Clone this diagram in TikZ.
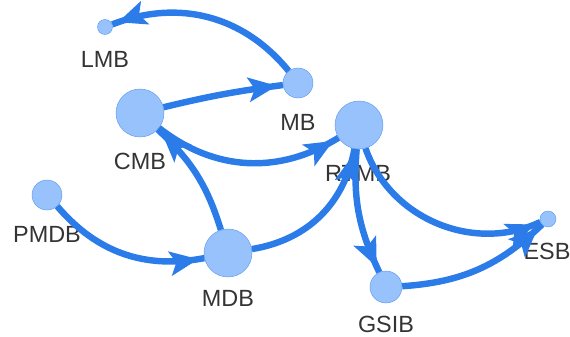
\documentclass[tikz,border=0pt]{standalone}
\usepackage{fontspec}
\setmainfont{Liberation Sans}
\usetikzlibrary{arrows.meta,decorations.markings}
\definecolor{EdgeBlue}{HTML}{2B7CE9}
\definecolor{NodeFill}{HTML}{97C2FC}
\definecolor{NodeLine}{HTML}{5E9BEE}
\definecolor{TextGray}{HTML}{343434}

\begin{document}
\begin{tikzpicture}[x=0.03cm, y=-0.03cm,
  vtx/.style={circle, draw=NodeLine, thin, fill=NodeFill, inner sep=0pt},
  lbl/.style={text=TextGray, font=\fontsize{20}{23}\selectfont, inner sep=0pt},
  link/.style={EdgeBlue, line width=5.5pt, postaction={decorate},
    decoration={markings, mark=at position -0.18cm with {\arrow{Stealth[length=0.85cm,width=0.72cm,inset=0.18cm]}}}}]
\useasboundingbox (0,0) rectangle (570,336);
\node[vtx, minimum size=0.45cm] (lmb)  at (105,27)  {};
\node[vtx, minimum size=0.9cm]  (mb)   at (298,83)  {};
\node[vtx, minimum size=1.44cm] (cmb)  at (140,113) {};
\node[vtx, minimum size=1.44cm] (rtmb) at (359,125) {};
\node[vtx, minimum size=0.9cm]  (pmdb) at (47,195)  {};
\node[vtx, minimum size=1.44cm] (mdb)  at (228,253) {};
\node[vtx, minimum size=0.96cm] (gsib) at (386,287) {};
\node[vtx, minimum size=0.48cm] (esb)  at (548,219) {};
\node[lbl] (lmb-t)  at (105,59)  {LMB};
\node[lbl] (mb-t)   at (298,122) {MB};
\node[lbl] (cmb-t)  at (140,161) {CMB};
\node[lbl] (rtmb-t) at (358,173) {RTMB};
\node[lbl] (pmdb-t) at (47,234)  {PMDB};
\node[lbl] (mdb-t)  at (228,298) {MDB};
\node[lbl] (gsib-t) at (386,324) {GSIB};
\node[lbl] (esb-t)  at (547,251) {ESB};
\draw[link] (mb)   to[bend right=36] (lmb);
\draw[link] (cmb)  to[bend left=3]   (mb);
\draw[link] (cmb)  to[bend right=35] (rtmb);
\draw[link] (mdb)  to[bend right=15] (cmb);
\draw[link] (pmdb) to[bend right=30] (mdb);
\draw[link] (mdb)  to[bend right=35] (rtmb);
\draw[link] (rtmb) to[bend right=15] (gsib);
\draw[link] (rtmb) to[bend right=48] (esb);
\draw[link] (gsib) to[bend right=20] (esb);
\end{tikzpicture}
\end{document}
